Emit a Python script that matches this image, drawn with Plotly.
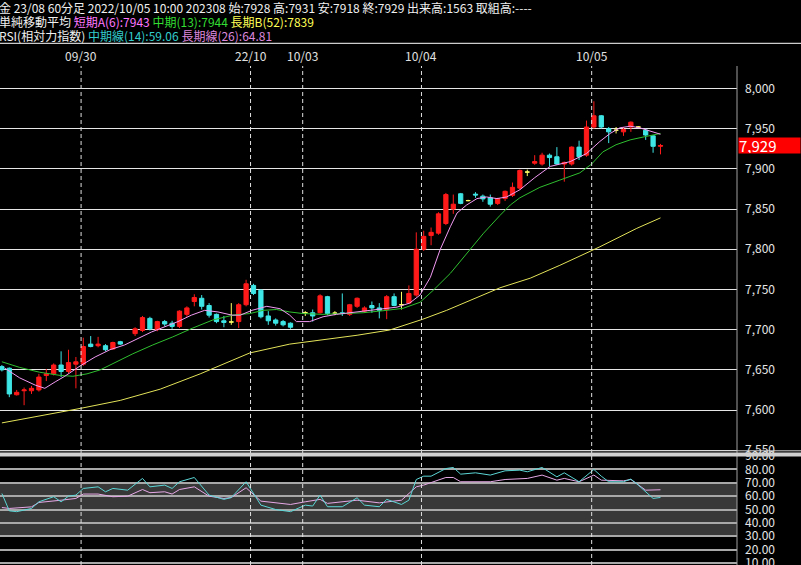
import plotly.graph_objects as go

# 60分足 (金 23/08) - 足番号ごとの四本値
bars = list(range(0, 17)) + list(range(18, 40)) + list(range(41, 90))

opens = [7654, 7652, 7619, 7624, 7624, 7625, 7643, 7645, 7656, 7648, 7657, 7657, 7682, 7680, 7680, 7676, 7685,
         7695, 7699, 7714, 7700, 7710, 7708, 7704, 7719, 7735, 7739, 7730, 7719, 7711, 7709.5, 7710, 7731, 7755,
         7749, 7717, 7712, 7710, 7708,
         7721, 7721, 7721, 7741, 7720.5, 7721, 7719, 7729, 7723, 7730, 7727, 7725, 7741, 7731, 7733, 7743, 7800,
         7817, 7820, 7832, 7850, 7869, 7860.5, 7868.5, 7866, 7864, 7857, 7863, 7867, 7876, 7896, 7907, 7906, 7917,
         7915, 7906, 7906, 7927, 7917, 7952, 7966, 7950, 7948, 7946, 7952, 7952, 7948, 7941, 7928]
highs = [7656, 7653, 7625, 7628, 7630, 7645, 7651, 7658, 7673, 7675, 7666, 7690, 7692, 7691, 7682, 7685, 7686,
         7703, 7717, 7716, 7711, 7712, 7711, 7724, 7729, 7744, 7743, 7733, 7720, 7717, 7733, 7733, 7762, 7757,
         7750, 7723, 7714, 7712, 7709,
         7723, 7725, 7744, 7742, 7723, 7745, 7732, 7740, 7729, 7735, 7733, 7743, 7745, 7747, 7755, 7821, 7823,
         7827, 7846, 7870, 7868, 7870, 7861.5, 7871, 7868, 7868, 7864, 7873, 7883, 7899, 7899, 7917, 7920, 7919,
         7927, 7909, 7928, 7935, 7960, 7984, 7967, 7952, 7952, 7952, 7959, 7953, 7950, 7942, 7931]
lows = [7648, 7616, 7618, 7606, 7620, 7623, 7636, 7643, 7641, 7646, 7627, 7655, 7678, 7678, 7673, 7675, 7681,
        7692, 7697, 7699, 7698, 7704, 7701, 7702, 7716, 7729, 7725, 7715, 7708, 7703, 7706, 7702, 7729, 7743,
        7714, 7706, 7705, 7704, 7701,
        7717, 7710, 7720, 7718, 7718, 7717, 7717, 7727, 7721, 7721, 7714, 7713, 7729, 7725, 7732, 7741, 7798,
        7805, 7818, 7830, 7844, 7856, 7859.5, 7864, 7859, 7853, 7855, 7860, 7865, 7874, 7891, 7905, 7904, 7903,
        7905, 7884, 7904, 7911, 7915, 7950, 7950, 7932, 7944, 7941, 7946, 7951, 7936, 7920, 7918]
closes = [7650, 7620, 7622, 7625, 7627, 7641, 7645, 7656, 7648, 7659, 7660, 7679, 7679, 7682, 7675, 7684, 7682,
          7701, 7715, 7701, 7710, 7707, 7704, 7723, 7727, 7740, 7729, 7718, 7710, 7709, 7709.5, 7731, 7757, 7745,
          7716, 7711, 7708, 7706, 7703,
          7721, 7717, 7742, 7720, 7720.5, 7720, 7731, 7739, 7727, 7727, 7724, 7741, 7730, 7731, 7745, 7800, 7816,
          7821, 7844, 7868, 7856, 7857, 7860.5, 7867.5, 7862.6, 7856, 7863, 7872, 7877, 7898, 7896, 7909, 7917,
          7914, 7906, 7908, 7927, 7915, 7952, 7966, 7952, 7946, 7948, 7949, 7958, 7952, 7942, 7928, 7929]

# 単純移動平均 (画面から読み取り)
ma6_x = [0.4, 2.4, 4.5, 5.8, 7.2, 8.5, 10.6, 12.6, 14.6, 16.6, 20.2, 23.8, 25.6, 27.4, 29.2, 31.1, 32.2, 33.8,
         35.8, 37.6, 38.9, 39.8, 41.6, 43.4, 45.2, 47.9, 50.6, 53.4, 55.1, 56.5, 57.9, 59.2, 60.6, 61.5, 62.8,
         64.2, 65.5, 66.9, 68.2, 70.0, 72.0, 74.1, 76.8, 79.0, 80.8, 82.2, 83.5, 84.9, 86.2, 88.0, 89.0]
ma6 = [7652, 7640, 7631, 7627, 7635, 7642, 7655, 7666, 7675, 7681, 7697, 7710, 7718, 7724, 7722, 7718, 7718,
       7724, 7729, 7726, 7718, 7710, 7710, 7716, 7719, 7722, 7725, 7728, 7733, 7743, 7765, 7799, 7828, 7845,
       7855, 7863, 7865, 7863, 7865, 7874, 7889, 7903, 7909, 7919, 7934, 7944, 7951, 7953, 7951, 7946, 7943]
ma13_x = [0, 2.4, 5.1, 7.9, 9.6, 11.5, 13.3, 15.0, 17.7, 20.4, 23.1, 25.8, 28.5, 31.2, 33.5, 35.3, 37.1, 38.9,
          40.7, 43.4, 46.1, 48.8, 51.5, 54.2, 56.5, 58.3, 60.6, 62.8, 65.1, 67.3, 68.7, 70.0, 72.7, 75.4, 78.1,
          79.7, 81.2, 83.0, 84.9, 86.9, 89.0]
ma13 = [7660, 7653, 7647, 7643, 7642, 7645, 7650, 7658, 7670, 7681, 7691, 7702, 7712, 7718, 7720, 7724, 7725,
        7722, 7720, 7719, 7720, 7721, 7723.5, 7726.5, 7734, 7749, 7770, 7795, 7820, 7842, 7855, 7864, 7877,
        7886, 7895, 7906, 7921, 7930, 7936, 7940, 7944]
ma52_x = [0, 5.1, 10.6, 16.0, 21.4, 26.8, 33.5, 38.9, 43.4, 48.0, 52.4, 56.9, 60.1, 67.3, 71.4, 75.4, 80.8, 85.8, 89.0]
ma52 = [7584, 7592.5, 7602, 7612, 7626, 7645, 7671, 7682, 7687, 7693, 7699.5, 7713, 7724, 7752, 7764, 7780,
        7803, 7826, 7839]

# RSI
rsi14_x = [0, 1, 2, 4, 5, 7, 8, 9, 10, 11, 13, 14, 15, 17, 19, 20, 22, 23, 24, 26, 28, 30, 31, 33, 35, 37, 39,
           41, 42, 43, 44, 46, 48, 49, 51, 52, 54, 55, 56, 57, 58, 60, 61, 62, 64, 66, 68, 70, 71, 73, 75, 76,
           78, 80, 81, 82, 84, 85, 86, 88, 89]
rsi14 = [62, 49, 48.4, 50.8, 55.8, 59.6, 55.8, 60, 60.8, 65.8, 67, 63.3, 65.8, 64.5, 73.3, 67, 68.3, 65.8, 70.8,
         74, 60.8, 57.6, 59, 70.8, 53.3, 50, 48.4, 53.3, 52.6, 60.8, 52.1, 52.1, 58.8, 53.3, 52.1, 57.6, 53.8, 57,
         72.5, 75, 75, 80.7, 81.5, 76.5, 77.5, 75.8, 79, 79.5, 78.3, 81.5, 74.5, 77.5, 70.8, 80, 75, 70.8, 70.8,
         72.8, 68.3, 58.3, 59.06]
rsi26_x = [0, 1, 4, 5, 8, 10, 11, 13, 15, 17, 19, 20, 22, 23, 24, 26, 28, 30, 31, 33, 35, 39, 41, 43, 44, 48, 51,
           54, 56, 57, 60, 61, 62, 66, 68, 71, 73, 75, 76, 78, 80, 81, 84, 85, 87, 89]
rsi26 = [51.5, 50.8, 52, 55.3, 57, 58.3, 61.6, 61.6, 59.6, 60, 65, 62.6, 63.3, 61.6, 65, 67, 60, 58.3, 59, 66.3,
         56.3, 53.8, 55.8, 57.6, 54.6, 57, 55, 57, 67, 68.3, 74, 74, 70.8, 70.8, 72.5, 73.3, 75.8, 72, 73.3, 70.8,
         75.8, 72, 71.5, 72.5, 64.5, 64.81]

date_labels = ["09/30", "22/10", "10/03", "10/04", "10/05"]
date_pos = [10.7, 33.6, 40.65, 56.7, 79.7]

last_price = 7929

RED = "#ff1a1a"
CYAN = "#3fe6e6"
DOJI = "#ffff66"
PINK = "#f29af2"
GREEN = "#2fbf2f"
YELLOW = "#e3e35a"

W, H = 801, 565
TOP = 66
PH = H - TOP
PW = 737


def py(px):
    # ピクセル位置 -> paper座標 (縦)
    return (H - px) / PH


fig = go.Figure()

# 通常の足と同値足(十字)を分ける
norm = [k for k in range(len(bars)) if opens[k] != closes[k]]
doji = [k for k in range(len(bars)) if opens[k] == closes[k]]

fig.add_trace(go.Candlestick(
    x=[bars[k] for k in norm], open=[opens[k] for k in norm], high=[highs[k] for k in norm],
    low=[lows[k] for k in norm], close=[closes[k] for k in norm],
    increasing=dict(line=dict(color=RED, width=1), fillcolor=RED),
    decreasing=dict(line=dict(color=CYAN, width=1), fillcolor=CYAN),
    xaxis="x", yaxis="y", hoverinfo="skip"))
fig.add_trace(go.Candlestick(
    x=[bars[k] for k in doji], open=[opens[k] for k in doji], high=[highs[k] for k in doji],
    low=[lows[k] for k in doji], close=[closes[k] for k in doji],
    increasing=dict(line=dict(color=DOJI, width=1), fillcolor=DOJI),
    decreasing=dict(line=dict(color=DOJI, width=1), fillcolor=DOJI),
    xaxis="x", yaxis="y", hoverinfo="skip"))

fig.add_trace(go.Scatter(x=ma52_x, y=ma52, mode="lines", line=dict(color=YELLOW, width=1), xaxis="x", yaxis="y"))
fig.add_trace(go.Scatter(x=ma13_x, y=ma13, mode="lines", line=dict(color=GREEN, width=1), xaxis="x", yaxis="y"))
fig.add_trace(go.Scatter(x=ma6_x, y=ma6, mode="lines", line=dict(color=PINK, width=1), xaxis="x", yaxis="y"))

fig.add_trace(go.Scatter(x=rsi26_x, y=rsi26, mode="lines", line=dict(color="#e6a8e6", width=1), xaxis="x2", yaxis="y2"))
fig.add_trace(go.Scatter(x=rsi14_x, y=rsi14, mode="lines", line=dict(color="#5cd6d6", width=1), xaxis="x2", yaxis="y2"))

shapes = []
# RSI 30-70 の帯
shapes.append(dict(type="rect", xref="x2 domain", yref="y2", x0=0, x1=1, y0=30, y1=70,
                   fillcolor="#383838", line=dict(width=0), layer="below"))
# 日付の縦線
for p in date_pos:
    shapes.append(dict(type="line", xref="x", yref="paper", x0=p, x1=p, y0=0, y1=1,
                       line=dict(color="#e0e0e0", width=1, dash="4px,3px")))
# 価格軸の区切り線
shapes.append(dict(type="line", xref="paper", yref="paper", x0=1, x1=1, y0=0, y1=1,
                   line=dict(color="#a0a0a0", width=1)))
# 上部の横線
shapes.append(dict(type="line", xref="paper", yref="paper", x0=0, x1=W / PW, y0=py(43.3), y1=py(43.3),
                   line=dict(color="#ffffff", width=1)))
# パネル区切り
shapes.append(dict(type="line", xref="paper", yref="paper", x0=0, x1=W / PW, y0=py(450.8), y1=py(450.8),
                   line=dict(color="#d0d0d0", width=1)))
shapes.append(dict(type="rect", xref="paper", yref="paper", x0=0, x1=W / PW, y0=py(456.5), y1=py(452.5),
                   fillcolor="#d0d0d0", line=dict(width=0)))

FONT = "Noto Sans CJK JP, sans-serif"
annotations = []
for lab, p in zip(date_labels, date_pos):
    annotations.append(dict(x=p, y=py(55), xref="x", yref="paper", text=lab, showarrow=False,
                            font=dict(color="#e0e0e0", size=12, family=FONT), xanchor="center", yanchor="middle"))

head1 = "金 23/08 60分足 2022/10/05 10:00 202308 始:7928 高:7931 安:7918 終:7929 出来高:1563 取組高:----"
head2 = ("単純移動平均 <span style='color:#ff77ff'>短期A(6):7943</span> "
         "<span style='color:#33dd33'>中期(13):7944</span> "
         "<span style='color:#ffff55'>長期B(52):7839</span>")
head3 = ("RSI(相対力指数) <span style='color:#33cccc'>中期線(14):59.06</span> "
         "<span style='color:#dd88dd'>長期線(26):64.81</span>")
for txt, ypx in [(head1, 7), (head2, 21.5), (head3, 35)]:
    annotations.append(dict(x=0, y=py(ypx), xref="paper", yref="paper", text=txt, showarrow=False,
                            font=dict(color="#f0f0f0", size=12, family=FONT), xanchor="left", yanchor="middle",
                            xshift=-3))

# 現在値
annotations.append(dict(x=1, y=last_price, xref="paper", yref="y", text=f"{last_price:,}", showarrow=False,
                        xanchor="left", yanchor="middle", align="left", width=61, height=15,
                        bgcolor="#ff0000", borderpad=0, xshift=1,
                        font=dict(color="#ffffff", size=15, family=FONT)))

xr = [-0.257, 99.34]
fig.update_layout(
    width=W, height=H,
    paper_bgcolor="#000000", plot_bgcolor="#000000",
    margin=dict(l=0, r=W - PW, t=TOP, b=0, pad=0, autoexpand=False),
    showlegend=False, hovermode=False, boxgap=0.18,
    shapes=shapes, annotations=annotations,
    xaxis=dict(domain=[0, 1], range=xr, anchor="y", showticklabels=False, showgrid=False,
               zeroline=False, rangeslider=dict(visible=False), fixedrange=True),
    xaxis2=dict(domain=[0, 1], range=xr, anchor="y2", matches="x", showticklabels=False,
                showgrid=False, zeroline=False),
    yaxis=dict(domain=[py(452), 1], range=[7547.8, 8027.9], side="right", dtick=50, tick0=7550,
               tickformat=",d", showgrid=True, gridcolor="#e6e6e6", gridwidth=1, zeroline=False,
               ticklabelstandoff=7, ticklabeloverflow="allow",
               tickfont=dict(color="#e6e6e6", size=12, family=FONT)),
    yaxis2=dict(domain=[0, py(456)], range=[8.45, 90.1], side="right", dtick=10, tick0=0,
                tickformat=".2f", showgrid=True, gridcolor="#a8a8a8", gridwidth=1.5, zeroline=False,
                ticklabelstandoff=7, ticklabeloverflow="allow",
                tickfont=dict(color="#e6e6e6", size=12, family=FONT)),
)

# ページ余白を消して図を左上に合わせる
fig.write_html("out.html", config={"displayModeBar": False},
               post_script="document.body.style.margin='0';document.body.style.background='#000';")
